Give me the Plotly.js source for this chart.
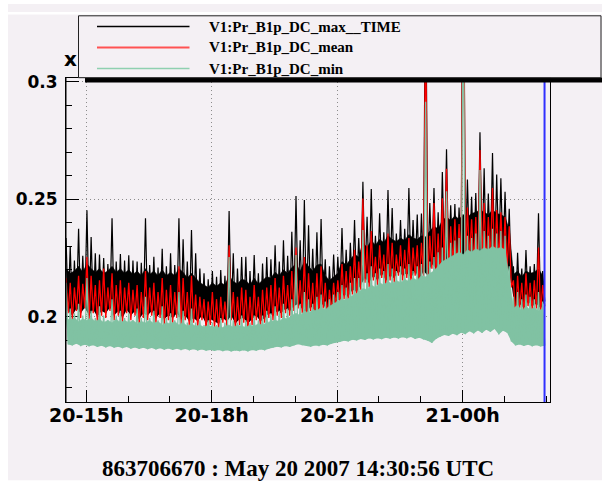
<!DOCTYPE html>
<html><head><meta charset="utf-8">
<script src="https://cdn.plot.ly/plotly-3.0.1.min.js"></script>
<style>
html,body{margin:0;padding:0;background:#ffffff;width:602px;height:483px;overflow:hidden}
#chart{position:absolute;left:8px;top:4px;width:594px;height:479px}
</style>
</head><body><div id="chart"></div>
<script>
// ---------------- data ----------------
const titleText = '863706670 : May 20 2007 14:30:56 UTC';
const seriesNames = ['V1:Pr_B1p_DC_max__TIME', 'V1:Pr_B1p_DC_mean', 'V1:Pr_B1p_DC_min'];
const xRangeStart = '2007-05-20 14:30:56';
const xRangeEnd = '2007-05-21 02:05:30';
const markerTime = '2007-05-21 01:57:40';
const xTickVals = ['2007-05-20 15:00:00', '2007-05-20 18:00:00', '2007-05-20 21:00:00', '2007-05-21 00:00:00'];
const xTickText = ['20-15h', '20-18h', '20-21h', '21-00h'];
const yTickVals = [0.2, 0.25, 0.3];
const yTickText = ['0.2', '0.25', '0.3'];
const yRange = [0.1637, 0.3017];
// samples: one every 6 minutes from 14:31 UTC.  High = peak reading, Mid = top of the dense band, Low = lowest reading
const sampleStart = '2007-05-20T14:31:00Z';
const sampleStepMinutes = 6;

const maxHigh = [0.2335,0.230,0.224,0.2375,0.226,
 0.2454,0.234,0.227,0.2265,0.225,
 0.2225,0.242,0.2235,0.2267,0.224,
 0.2262,0.224,0.2235,0.223,0.242,
 0.222,0.2256,0.221,0.229,0.2215,
 0.2271,0.222,0.242,0.233,0.2235,
 0.237,0.2271,0.2205,0.2185,0.216,
 0.2195,0.217,0.2199,0.2175,0.245,
 0.227,0.2205,0.2255,0.2256,0.2195,
 0.2263,0.2185,0.2227,0.2255,0.2245,
 0.2305,0.2235,0.2326,0.226,0.2362,
 0.2514,0.2326,0.2497,0.239,0.229,
 0.236,0.2416,0.2245,0.2215,0.2265,
 0.2255,0.2378,0.2285,0.2315,0.2412,
 0.2335,0.2575,0.2426,0.2544,0.2345,
 0.2441,0.236,0.254,0.2463,0.2355,
 0.2412,0.2375,0.2548,0.2412,0.2435,
 0.244,0.36,0.2484,0.2548,0.2445,
 0.2617,0.2714,0.2475,0.248,0.2465,
 0.40,0.2585,0.2511,0.2527,0.2786,
 0.2633,0.2525,0.2697,0.2606,0.259,
 0.2532,0.246,0.2215,0.2273,0.2205,
 0.2284,0.2215,0.2225,0.2441,0.2195];
const maxMid = [0.2205,0.2185,0.2195,0.2215,0.219,
 0.2225,0.2205,0.219,0.2205,0.2185,
 0.2195,0.2215,0.219,0.2205,0.2185,
 0.22,0.218,0.2195,0.2175,0.2205,
 0.218,0.2195,0.2175,0.22,0.2175,
 0.219,0.2175,0.2205,0.219,0.2165,
 0.2185,0.2165,0.2145,0.2135,0.2125,
 0.2145,0.213,0.2145,0.2135,0.2175,
 0.215,0.214,0.216,0.2155,0.2135,
 0.2165,0.214,0.2155,0.217,0.2165,
 0.219,0.2175,0.22,0.2185,0.221,
 0.2225,0.2195,0.2235,0.2215,0.2195,
 0.222,0.2225,0.2175,0.2155,0.217,
 0.2185,0.2235,0.222,0.2245,0.2265,
 0.2255,0.2315,0.2295,0.2325,0.2305,
 0.233,0.2315,0.2345,0.233,0.232,
 0.2335,0.2325,0.235,0.2335,0.233,
 0.2345,0.234,0.2365,0.2385,0.2375,
 0.241,0.2425,0.241,0.243,0.2415,
 0.2435,0.2425,0.244,0.2445,0.2455,
 0.2445,0.2435,0.2455,0.244,0.2435,
 0.2425,0.237,0.218,0.2195,0.217,
 0.2195,0.2185,0.219,0.2205,0.2175];
const maxLow = [0.2025,0.2005,0.2035,0.2015,0.204,
 0.2005,0.203,0.2,0.2025,0.2015,
 0.204,0.2005,0.2025,0.1995,0.203,
 0.2005,0.2025,0.199,0.2015,0.2005,
 0.2025,0.1995,0.2015,0.199,0.2005,
 0.1995,0.2015,0.199,0.2005,0.198,
 0.1995,0.198,0.2005,0.197,0.199,
 0.198,0.197,0.1995,0.198,0.2005,
 0.197,0.199,0.1995,0.197,0.199,
 0.2005,0.198,0.1995,0.2015,0.2005,
 0.2025,0.2015,0.2035,0.2025,0.2045,
 0.2055,0.2035,0.2015,0.2045,0.2025,
 0.2035,0.2055,0.2015,0.2045,0.2065,
 0.2075,0.2095,0.2085,0.2115,0.2105,
 0.2135,0.2165,0.2145,0.2175,0.2155,
 0.2185,0.2155,0.2175,0.2165,0.2195,
 0.2175,0.2185,0.2165,0.2195,0.2155,
 0.2195,0.2175,0.2225,0.2205,0.2185,
 0.2235,0.2215,0.2245,0.2225,0.2255,
 0.2235,0.2265,0.2245,0.2215,0.2255,
 0.2235,0.2265,0.2225,0.2255,0.2245,
 0.2225,0.2145,0.2015,0.2055,0.2035,
 0.2065,0.2045,0.2055,0.2035,0.2065];
const meanHigh = [0.2165,0.2145,0.2125,0.2175,0.214,
 0.2255,0.2175,0.2135,0.2155,0.2205,
 0.2125,0.2185,0.2135,0.2155,0.2125,
 0.2145,0.2115,0.2135,0.2105,0.2195,
 0.2125,0.2145,0.2105,0.2165,0.2115,
 0.2135,0.2105,0.2215,0.2165,0.2105,
 0.2175,0.2095,0.2085,0.2075,0.2065,
 0.2105,0.2075,0.2085,0.2065,0.2305,
 0.2105,0.2085,0.2125,0.2115,0.2085,
 0.2135,0.2085,0.2115,0.2125,0.2135,
 0.2165,0.2125,0.2175,0.2135,0.2195,
 0.2295,0.2155,0.2255,0.2185,0.2145,
 0.2185,0.2215,0.2145,0.2115,0.2145,
 0.2155,0.2225,0.2195,0.2215,0.2285,
 0.2235,0.2504,0.2305,0.2365,0.2255,
 0.2305,0.2265,0.2355,0.2315,0.2265,
 0.2305,0.2285,0.2335,0.2295,0.2305,
 0.2315,0.33,0.2345,0.2485,0.2355,
 0.2505,0.263,0.2385,0.2415,0.2395,
 0.38,0.2465,0.2415,0.2425,0.271,
 0.2485,0.2425,0.2548,0.2455,0.2445,
 0.2425,0.2385,0.2155,0.2175,0.2145,
 0.2185,0.2145,0.2155,0.2295,0.2135];
const meanLow = [0.2015,0.1985,0.2025,0.1995,0.2035,
 0.1985,0.2015,0.1975,0.2005,0.1995,
 0.2025,0.1985,0.2005,0.1975,0.2015,
 0.1985,0.2005,0.1965,0.1995,0.1985,
 0.2005,0.1975,0.1995,0.1965,0.1985,
 0.1975,0.1995,0.1965,0.1985,0.1955,
 0.1975,0.1955,0.1985,0.1945,0.1965,
 0.1955,0.1945,0.1975,0.1955,0.1985,
 0.1945,0.1965,0.1975,0.1945,0.1965,
 0.1985,0.1955,0.1975,0.1995,0.1985,
 0.2005,0.1995,0.2015,0.2005,0.2025,
 0.2035,0.2015,0.1995,0.2025,0.2005,
 0.2015,0.2035,0.1995,0.2025,0.2045,
 0.2055,0.2075,0.2065,0.2095,0.2085,
 0.2115,0.2145,0.2125,0.2155,0.2135,
 0.2165,0.2135,0.2155,0.2145,0.2175,
 0.2155,0.2165,0.2145,0.2175,0.2135,
 0.2175,0.2156,0.2205,0.2185,0.2165,
 0.2215,0.2195,0.2225,0.2205,0.2235,
 0.2215,0.2245,0.2225,0.2195,0.2235,
 0.2215,0.2245,0.2205,0.2235,0.2225,
 0.2205,0.2125,0.1995,0.2035,0.2015,
 0.2045,0.2025,0.2035,0.2015,0.2045];
const minHigh = [0.2145,0.2035,0.2015,0.2055,0.2005,
 0.2165,0.2025,0.1995,0.2045,0.2005,
 0.1985,0.2075,0.2005,0.2025,0.1995,
 0.2015,0.1985,0.2035,0.1995,0.2085,
 0.1995,0.2025,0.1985,0.2045,0.1995,
 0.2015,0.1985,0.2105,0.2025,0.1975,
 0.2035,0.1975,0.1985,0.1965,0.1985,
 0.1975,0.1965,0.1995,0.1975,0.2255,
 0.1985,0.1975,0.2005,0.1985,0.1975,
 0.2005,0.1985,0.2005,0.2025,0.2015,
 0.2045,0.2025,0.2055,0.2035,0.2075,
 0.2263,0.2055,0.2105,0.2075,0.2055,
 0.2085,0.2095,0.2065,0.2075,0.2095,
 0.2105,0.2135,0.2125,0.2145,0.2165,
 0.2165,0.237,0.2185,0.2215,0.2185,
 0.2205,0.2195,0.2225,0.2205,0.2195,
 0.2215,0.2205,0.2225,0.2195,0.2215,
 0.2225,0.2916,0.2235,0.2255,0.2275,
 0.2295,0.2535,0.2315,0.2325,0.2335,
 0.35,0.2345,0.2335,0.2355,0.2625,
 0.2365,0.2345,0.2375,0.2355,0.2365,
 0.2345,0.2215,0.2085,0.2105,0.2075,
 0.2095,0.2085,0.2075,0.2105,0.2065];
const minMid = [0.1995,0.1985,0.1995,0.198,0.199,
 0.1985,0.1995,0.198,0.199,0.1975,
 0.1985,0.1975,0.199,0.1975,0.1985,
 0.1975,0.1985,0.197,0.198,0.1975,
 0.1985,0.197,0.198,0.1965,0.1975,
 0.197,0.198,0.1965,0.1975,0.196,
 0.197,0.196,0.1965,0.1955,0.1965,
 0.1955,0.196,0.195,0.196,0.1965,
 0.1955,0.1965,0.196,0.1955,0.1965,
 0.196,0.197,0.1965,0.1975,0.198,
 0.1985,0.198,0.1995,0.199,0.2005,
 0.2015,0.2005,0.2025,0.2015,0.203,
 0.2025,0.204,0.203,0.2045,0.2055,
 0.2065,0.2075,0.207,0.2085,0.2095,
 0.2105,0.212,0.2115,0.2135,0.2125,
 0.2145,0.2135,0.215,0.214,0.2155,
 0.2145,0.216,0.215,0.2165,0.2155,
 0.2175,0.217,0.2185,0.2195,0.2215,
 0.2235,0.2245,0.2255,0.2265,0.2275,
 0.2265,0.2285,0.2275,0.229,0.228,
 0.2295,0.2285,0.23,0.229,0.2295,
 0.2285,0.2165,0.2035,0.205,0.2025,
 0.2045,0.203,0.204,0.2025,0.2035];
const minLow = [0.1882,0.1878,0.1885,0.1875,0.1881,
 0.1874,0.1879,0.1871,0.1877,0.1869,
 0.1875,0.1868,0.1872,0.1866,0.1871,
 0.1864,0.1869,0.1863,0.1868,0.1862,
 0.1867,0.1861,0.1866,0.1860,0.1865,
 0.1859,0.1864,0.1858,0.1863,0.1857,
 0.1862,0.1856,0.1861,0.1855,0.1859,
 0.1854,0.1858,0.1853,0.1857,0.1852,
 0.1856,0.1853,0.1857,0.1852,0.1858,
 0.1855,0.1861,0.1857,0.1864,0.1868,
 0.1872,0.1869,0.1875,0.1871,0.1878,
 0.1883,0.1879,0.1876,0.1872,0.1878,
 0.1875,0.1881,0.1878,0.1885,0.1889,
 0.1893,0.1898,0.1895,0.1902,0.1899,
 0.1905,0.1901,0.1908,0.1903,0.1909,
 0.1904,0.1911,0.1906,0.1912,0.1907,
 0.1913,0.1908,0.1914,0.1905,0.1911,
 0.1903,0.1898,0.1888,0.1905,0.1915,
 0.1922,0.1918,0.1928,0.1921,0.1932,
 0.1926,0.1938,0.1929,0.1942,0.1931,
 0.1945,0.1935,0.1948,0.1925,0.1941,
 0.1932,0.1895,0.1878,0.1882,0.1876,
 0.1881,0.1874,0.1879,0.1873,0.1877];

const seriesColors = ['#000000', '#ff0000', '#80c2a3'];
const legendLineColors = ['#000000', '#ff5252', '#8fd0b0'];

// ---------------- build traces ----------------
function fmt(ms) { return new Date(ms).toISOString().replace('T', ' ').slice(0, 19); }
const t0 = Date.parse(sampleStart);
const stepMs = sampleStepMinutes * 60000;
const hiTimes = maxHigh.map((_, i) => fmt(t0 + i * stepMs));
const loTimes = maxHigh.map((_, i) => fmt(t0 + i * stepMs + stepMs / 2));
function zigzag(hi, lo) {
  const xs = [], ys = [];
  for (let i = 0; i < hi.length; i++) {
    xs.push(hiTimes[i]); ys.push(hi[i]);
    xs.push(loTimes[i]); ys.push(lo[i]);
  }
  return {x: xs, y: ys};
}
const traces = [];
function band(low, mid, col) {
  traces.push({type: 'scatter', mode: 'lines', x: loTimes, y: low, line: {width: 0, color: col, simplify: false},
               showlegend: false, hoverinfo: 'skip'});
  traces.push({type: 'scatter', mode: 'lines', x: hiTimes, y: mid, fill: 'tonexty', fillcolor: col,
               line: {width: 0.6, color: col, simplify: false}, showlegend: false, hoverinfo: 'skip'});
}
function hair(high, low, col, w, name) {
  const z = zigzag(high, low);
  traces.push({type: 'scatter', mode: 'lines', x: z.x, y: z.y, name: name,
               line: {color: col, width: w, simplify: false}, showlegend: false, hoverinfo: 'skip'});
}
band(maxLow, maxMid, seriesColors[0]);
hair(maxHigh, maxLow, seriesColors[0], 1.2, seriesNames[0]);
hair(meanHigh, meanLow, seriesColors[1], 1.3, seriesNames[1]);
band(minLow, minMid, seriesColors[2]);
hair(minHigh, minLow, seriesColors[2], 1.3, seriesNames[2]);

// pixel helpers (page pixels -> paper coords) for frame decorations
const PL = 66, PR = 550, PT = 78, PB = 402;
const px = v => (v - PL) / (PR - PL);
const py = v => (PB - v) / (PB - PT);
const bg = '#f4f0f4';

const shapes = [
  {type: 'rect', xref: 'paper', yref: 'paper', x0: px(0), x1: px(610), y0: py(12), y1: py(14.5), fillcolor: '#ffffff', line: {width: 0}, layer: 'above'},
  {type: 'rect', xref: 'paper', yref: 'paper', x0: px(0), x1: px(610), y0: py(480.3), y1: py(490), fillcolor: '#ffffff', line: {width: 0}, layer: 'below'},
  {type: 'line', xref: 'paper', yref: 'paper', x0: 0, x1: 0, y0: 0, y1: 1, line: {color: '#000', width: 1}, layer: 'above'},
  {type: 'line', xref: 'x', yref: 'paper', x0: markerTime, x1: markerTime, y0: 0, y1: 1, line: {color: '#3030ff', width: 2}, layer: 'above'},
  {type: 'rect', xref: 'paper', yref: 'paper', x0: px(85), x1: px(610), y0: py(82.6), y1: py(77.5), fillcolor: '#000', line: {width: 0}, layer: 'above'},
  {type: 'rect', xref: 'paper', yref: 'paper', x0: px(78.5), x1: px(601), y0: py(77.7), y1: py(15.8), fillcolor: bg, line: {color: '#222', width: 1}, layer: 'above'}
];
const legendY = [26.5, 47.5, 68.5];
const annotations = [];
legendY.forEach((yy, k) => {
  shapes.push({type: 'line', xref: 'paper', yref: 'paper', x0: px(97), x1: px(189.5), y0: py(yy), y1: py(yy),
               line: {color: legendLineColors[k], width: k === 1 ? 2 : 1.3}, layer: 'above'});
  annotations.push({xref: 'paper', yref: 'paper', x: px(207), y: py(yy), xanchor: 'left', yanchor: 'middle',
                    text: seriesNames[k], showarrow: false,
                    font: {family: 'Liberation Serif', size: 15, color: '#000', weight: 'bold'}});
});
annotations.push({xref: 'paper', yref: 'paper', x: px(70), y: py(59), xanchor: 'center', yanchor: 'middle',
                  text: 'x', showarrow: false, font: {family: 'DejaVu Sans', size: 20, color: '#000', weight: 'bold'}});

const tickFont = {family: 'DejaVu Sans', color: '#000', weight: 'bold'};
const layout = {
  width: 594, height: 479,
  paper_bgcolor: bg, plot_bgcolor: bg,
  margin: {l: 58, r: 52, t: 74, b: 81, pad: 0},
  showlegend: false,
  title: {text: '<b>' + titleText + '</b>', x: 290 / 594, xanchor: 'center', xref: 'container',
          y: 1 - 464 / 479, yanchor: 'middle', yref: 'container',
          font: {family: 'Liberation Serif', size: 23, color: '#000'}},
  xaxis: {type: 'date', range: [xRangeStart, xRangeEnd], tickmode: 'array', tickvals: xTickVals, ticktext: xTickText,
          ticks: 'inside', ticklen: 12, tickwidth: 1, tickcolor: '#000',
          showline: true, linecolor: '#000', linewidth: 1, mirror: true,
          showgrid: true, gridcolor: '#8c8c8c', gridwidth: 1, griddash: '1px,3px', zeroline: false,
          tickfont: Object.assign({size: 19}, tickFont), layer: 'below traces', ticklabelstandoff: -4,
          minor: {tickmode: 'linear', tick0: '2007-05-20 15:00:00', dtick: 3600000, ticks: 'inside', ticklen: 6,
                  tickcolor: '#000', tickwidth: 1, showgrid: false}},
  yaxis: {range: yRange, tickmode: 'array', tickvals: yTickVals, ticktext: yTickText,
          ticks: 'inside', ticklen: 13, tickwidth: 1, tickcolor: '#000',
          showline: true, linecolor: '#000', linewidth: 1, mirror: true,
          showgrid: true, gridcolor: '#8c8c8c', gridwidth: 1, griddash: '1px,3px', zeroline: false,
          tickfont: Object.assign({size: 17}, tickFont), layer: 'below traces', ticklabelstandoff: 4,
          minor: {tickmode: 'linear', tick0: 0, dtick: 0.01, ticks: 'inside', ticklen: 6,
                  tickcolor: '#000', tickwidth: 1, showgrid: false}},
  shapes: shapes,
  annotations: annotations
};
Plotly.newPlot('chart', traces, layout, {staticPlot: true, displayModeBar: false});
</script>
</body></html>
